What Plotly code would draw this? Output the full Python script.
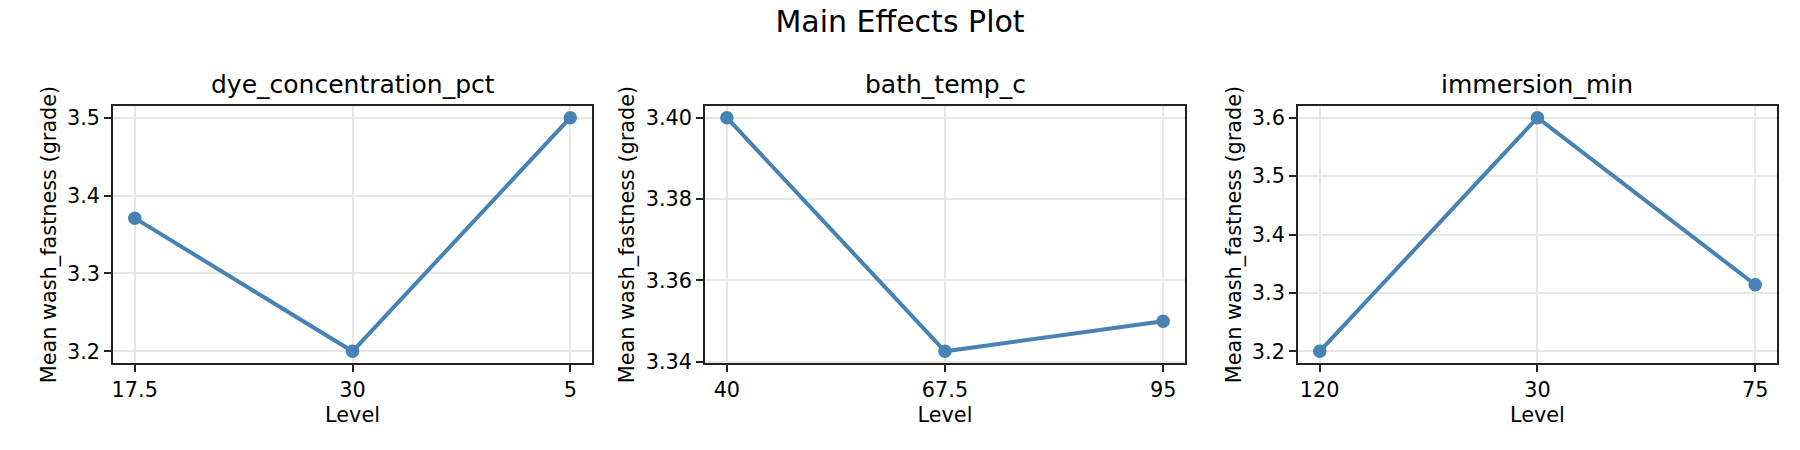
import plotly.graph_objects as go
from plotly.subplots import make_subplots

# Main effects: mean wash fastness per factor level
factors = ["dye_concentration_pct", "bath_temp_c", "immersion_min"]

dye_levels = ["17.5", "30", "5"]
dye_means = [3.371, 3.200, 3.500]

temp_levels = ["40", "67.5", "95"]
temp_means = [3.400, 3.3426, 3.350]

immersion_levels = ["120", "30", "75"]
immersion_means = [3.200, 3.600, 3.314]

FONT = "DejaVu Sans"
LINE_COLOR = "#4682B4"
W, H = 1800, 450

fig = make_subplots(rows=1, cols=3, horizontal_spacing=0.05)

panels = [
    (dye_levels, dye_means, 0.1, ".1f"),
    (temp_levels, temp_means, 0.02, ".2f"),
    (immersion_levels, immersion_means, 0.1, ".1f"),
]
domains = [(0.0, 0.2879), (0.3558, 0.6442), (0.7121, 1.0)]

for i, (levels, means, step, fmt) in enumerate(panels, start=1):
    fig.add_trace(
        go.Scatter(
            x=levels,
            y=means,
            mode="lines+markers",
            line=dict(color=LINE_COLOR, width=4),
            marker=dict(color=LINE_COLOR, size=13.5),
            showlegend=False,
        ),
        row=1,
        col=i,
    )
    lo, hi = min(means), max(means)
    pad = (hi - lo) * 0.05
    fig.update_xaxes(
        type="category",
        range=[-0.1, 2.1],
        domain=domains[i - 1],
        title=dict(text="Level", standoff=7, font=dict(size=20.8)),
        row=1,
        col=i,
    )
    fig.update_yaxes(
        range=[lo - pad, hi + pad],
        dtick=step,
        tickformat=fmt,
        title=dict(text="Mean wash_fastness (grade)", standoff=5,
                   font=dict(size=20.8)),
        row=1,
        col=i,
    )

axis_style = dict(
    showline=True,
    mirror=True,
    linecolor="#222222",
    linewidth=1.7,
    ticks="outside",
    ticklen=7,
    tickwidth=1.7,
    tickcolor="#222222",
    showgrid=True,
    gridcolor="#e7e7e7",
    gridwidth=1.7,
    zeroline=False,
    tickfont=dict(size=20.8),
)
fig.update_xaxes(**axis_style)
fig.update_yaxes(**axis_style)

# panel titles
for name, (x0, x1) in zip(factors, domains):
    fig.add_annotation(
        text=name,
        x=(x0 + x1) / 2,
        y=1.082,
        xref="paper",
        yref="paper",
        xanchor="center",
        yanchor="middle",
        showarrow=False,
        font=dict(size=25, color="black"),
    )

fig.update_layout(
    width=W,
    height=H,
    margin=dict(l=113, r=23, t=106, b=87),
    paper_bgcolor="white",
    plot_bgcolor="white",
    font=dict(family=FONT, color="black"),
    title=dict(
        text="Main Effects Plot",
        x=0.5,
        xanchor="center",
        y=1 - 21.5 / H,
        yanchor="middle",
        font=dict(size=30),
    ),
)

# drop the page's default body margin so the figure sits at the window corner
fig.write_html(
    "out.html",
    config={"displayModeBar": False},
    post_script="document.body.style.margin = '0';",
)
